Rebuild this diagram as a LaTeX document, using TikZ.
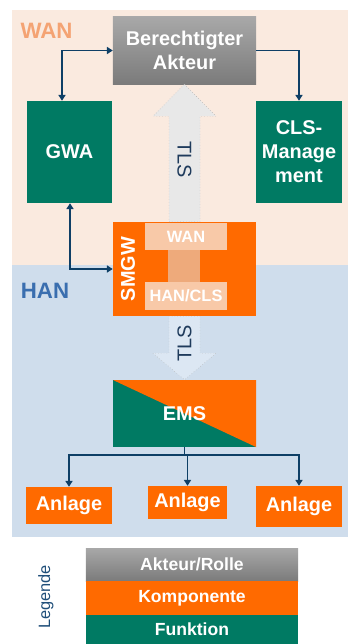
\documentclass[tikz,border=0pt]{standalone}
\usepackage{fontspec}
\setmainfont{Liberation Sans}
\usetikzlibrary{arrows.meta,calc}
\definecolor{wanbg}{HTML}{FAEADF}
\definecolor{hanbg}{HTML}{CFDDEC}
\definecolor{wantext}{HTML}{F4A373}
\definecolor{hantext}{HTML}{3A6EAF}
\definecolor{grtop}{HTML}{A8A8A8}
\definecolor{grbot}{HTML}{7B7B7B}
\definecolor{kompor}{HTML}{FF6A00}
\definecolor{funkgreen}{HTML}{007A63}
\definecolor{portfill}{HTML}{F8C9A8}
\definecolor{linkfill}{HTML}{EEAA7B}
\definecolor{navy}{HTML}{0E3F66}
\definecolor{tlsgray}{HTML}{E8E8E8}
\definecolor{tlsblue}{HTML}{DCE7F3}
\definecolor{tlstext}{HTML}{1F3B5C}
\definecolor{legtext}{HTML}{1F4E79}

\begin{document}
\begin{tikzpicture}[x=0.03cm,y=-0.03cm]
\tikzset{box/.style={text=white, font=\bfseries\fontsize{17}{20.5}\selectfont, align=center, inner sep=0pt},
  akteur/.style={box, top color=grtop, bottom color=grbot},
  komp/.style={box, fill=kompor},
  funk/.style={box, fill=funkgreen},
  port/.style={box, fill=portfill, font=\bfseries\fontsize{14}{16}\selectfont},
  conn/.style={draw=navy, line width=1.7pt, >={Triangle[length=5pt,width=6pt]}},
  tls/.style={text=tlstext, font=\fontsize{17}{19}\selectfont, inner sep=0pt},
  region/.style={font=\bfseries\fontsize{19}{21}\selectfont, inner sep=0pt}}
\useasboundingbox (0,0) rectangle (348,644);
\fill[wanbg] (12,10) rectangle (348,265);
\fill[hanbg] (12,265) rectangle (348,537);
\node[region, text=wantext] (wanlabel) at (46.5,31) {WAN};
\node[region, text=hantext] (hanlabel) at (45,291) {HAN};

\node[akteur, minimum width=4.29cm, minimum height=2.01cm] (akteur) at (184.5,50.5) {Berechtigter\\Akteur};
\node[funk, minimum width=2.55cm, minimum height=3.06cm] (gwa) at (69.5,152) {GWA};
\node[funk, minimum width=2.58cm, minimum height=3.06cm] (cls) at (299,152) {CLS-\\Manage\\ment};
\node[komp, minimum width=4.29cm, minimum height=2.82cm] (smgw) at (184.5,269) {};
\node[box, rotate=90] (smgwlabel) at (128,269) {SMGW};
\node[fill=linkfill, minimum width=0.96cm, minimum height=0.96cm] (link) at (184,266) {};
\node[port, minimum width=2.46cm, minimum height=0.81cm] (wanport) at (186,236.5) {WAN};
\node[port, minimum width=2.46cm, minimum height=0.84cm] (hanport) at (186,296) {HAN/CLS};
\node[funk, minimum width=4.29cm, minimum height=2.01cm,
  path picture={\fill[kompor] (path picture bounding box.north west) -- (path picture bounding box.north east)
    -- (path picture bounding box.south east) -- cycle;}] (ems) at (184.5,413.5) {EMS};
\node[komp, minimum width=2.58cm, minimum height=1.11cm] (anlage1) at (69,505.5) {Anlage};
\node[komp, minimum width=2.37cm, minimum height=0.99cm] (anlage2) at (187.5,502.5) {Anlage};
\node[komp, minimum width=2.58cm, minimum height=1.23cm] (anlage3) at (299,506.5) {Anlage};

\filldraw[fill=tlsgray, draw=gray!70, dotted, line width=0.4pt] (akteur.south) -- ++(31.5,32) -- ++(-16,0)
  -- ($(smgw.north)+(15.5,0)$) -- ($(smgw.north)+(-15.5,0)$) -- ($(akteur.south)+(-15.5,32)$) -- ++(-16,0) -- cycle;
\node[tls, rotate=-90] (tlsup) at (184.5,160) {TLS};
\filldraw[fill=tlsblue, draw=gray!60, dotted, line width=0.4pt] ($(smgw.south)+(-15.5,0)$) -- ($(smgw.south)+(15.5,0)$)
  -- ++(0,37) -- ++(16,0) -- (ems.north) -- ($(smgw.south)+(-31.5,37)$) -- ++(16,0) -- cycle;
\node[tls, rotate=90] (tlsdown) at (184.5,343) {TLS};

\draw[conn,<->] ($(gwa.north)+(-7.5,0)$) |- (akteur.west);
\draw[conn,->] (akteur.east) -| (cls.north);
\draw[conn,<->] ($(gwa.south)+(0.5,0)$) |- (smgw.west);
\draw[conn,->] (ems.south) -- ++(0,8) -| (anlage1.north);
\draw[conn,->] (ems.south) -- ++(0,8) -| (anlage2.north);
\draw[conn,->] (ems.south) -- ++(0,8) -| (anlage3.north);

\node[akteur, font=\bfseries\fontsize{15}{17}\selectfont, minimum width=6.36cm, minimum height=0.99cm] (legakteur) at (192,564.5) {Akteur/Rolle};
\node[komp, font=\bfseries\fontsize{15}{17}\selectfont, minimum width=6.36cm, minimum height=1.02cm] (legkomp) at (192,598) {Komponente};
\node[funk, font=\bfseries\fontsize{15}{17}\selectfont, minimum width=6.36cm, minimum height=0.87cm] (legfunk) at (192,629.5) {Funktion};
\node[tls, text=legtext, rotate=90, font=\fontsize{14}{16}\selectfont] (legende) at (46,597) {Legende};
\end{tikzpicture}
\end{document}
